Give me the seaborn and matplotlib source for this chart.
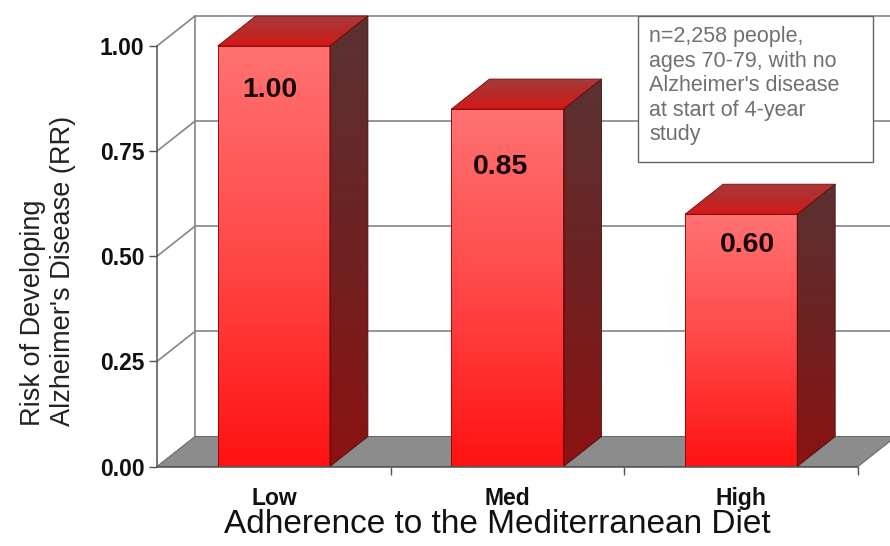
import numpy as np
import pandas as pd
import matplotlib
matplotlib.use("Agg")
import matplotlib.pyplot as plt
import seaborn as sns
from matplotlib.patches import Polygon, Rectangle
from matplotlib.colors import LinearSegmentedColormap

# ---------------- data ----------------
categories = ["Low", "Med", "High"]
risk_values = [1.00, 0.85, 0.60]
value_labels = ["1.00", "0.85", "0.60"]
y_ticks = [0.00, 0.25, 0.50, 0.75, 1.00]
y_tick_labels = ["0.00", "0.25", "0.50", "0.75", "1.00"]
x_title = "Adherence to the Mediterranean Diet"
y_title = "Risk of Developing\nAlzheimer's Disease (RR)"
note_text = "n=2,258 people,\nages 70-79, with no\nAlzheimer's disease\nat start of 4-year\nstudy"

# ---------------- style ----------------
label_offsets_px = [(-4, 44), (-7, 58), (6, 31)]   # value label offset from bar top centre
sns.set_theme(style="white")
plt.rcParams['font.family'] = ['Liberation Sans', 'DejaVu Sans']

W, H = 890, 546
fig = plt.figure(figsize=(W / 100, H / 100), dpi=100)
fig.patch.set_facecolor("white")

ax_l, ax_r, ax_b, ax_t = 157, 890, 466.5, 15
ax = fig.add_axes([ax_l / W, (H - ax_b) / H, (ax_r - ax_l) / W, (ax_b - ax_t) / H])
px_per_x = (858 - 157) / 3.0
px_per_y = 420.5
XMIN, XMAX = -0.5, -0.5 + (ax_r - ax_l) / px_per_x
YMAX = (ax_b - ax_t) / px_per_y
DX = 38 / px_per_x
DY = 30 / px_per_y

df = pd.DataFrame({"Adherence": categories, "RR": risk_values})
sns.barplot(data=df, x="Adherence", y="RR", order=categories, width=0.48,
            color="#ff3030", saturation=1, ax=ax, zorder=5)
bars = list(ax.patches)

grid_c = "#858585"
# back wall gridlines + left wall diagonals
for t in y_ticks[1:]:
    ax.plot([XMIN + DX, XMAX + 1], [t + DY, t + DY], color=grid_c, lw=1.2, zorder=1)
    ax.plot([XMIN, XMIN + DX], [t, t + DY], color=grid_c, lw=1.2, zorder=1, clip_on=False)
ax.plot([XMIN + DX, XMIN + DX], [DY, y_ticks[-1] + DY], color=grid_c, lw=1.2, zorder=1)

# floor
floor = Polygon([(XMIN, 0), (2.5, 0), (2.5 + DX, DY), (XMIN + DX, DY)],
                closed=True, facecolor="#8c8c8c", edgecolor="#6a6a6a", lw=0.8, zorder=2)
ax.add_patch(floor)

front_cmap = LinearSegmentedColormap.from_list("front", ["#ff1212", "#ff4848", "#ff7272"])
side_cmap = LinearSegmentedColormap.from_list("side", ["#8c1212", "#6e2222", "#5a3232"])
top_cmap = LinearSegmentedColormap.from_list("top", ["#d81818", "#b82a2a", "#a83a3a"])
grad = np.linspace(0, 1, 256).reshape(-1, 1)

for p, lab, (offx, offy) in zip(bars, value_labels, label_offsets_px):
    x0, w, h = p.get_x(), p.get_width(), p.get_height()
    x1 = x0 + w
    # front face gradient
    p.set_facecolor("none")
    p.set_edgecolor("#8a0000")
    p.set_linewidth(0.6)
    p.set_zorder(7)
    ax.imshow(grad, extent=[x0, x1, 0, h], origin="lower", aspect="auto",
              cmap=front_cmap, zorder=6, interpolation="bilinear")
    # side face
    side = Polygon([(x1, 0), (x1 + DX, DY), (x1 + DX, h + DY), (x1, h)], closed=True,
                   facecolor="none", edgecolor="#4a1010", lw=0.6, zorder=7)
    ax.add_patch(side)
    im = ax.imshow(grad, extent=[x1, x1 + DX, 0, h + DY], origin="lower", aspect="auto",
                   cmap=side_cmap, zorder=6, interpolation="bilinear")
    im.set_clip_path(side)
    # top face
    top = Polygon([(x0, h), (x1, h), (x1 + DX, h + DY), (x0 + DX, h + DY)], closed=True,
                  facecolor="none", edgecolor="#7a0a0a", lw=0.6, zorder=7)
    ax.add_patch(top)
    im2 = ax.imshow(grad, extent=[x0, x1 + DX, h, h + DY], origin="lower", aspect="auto",
                    cmap=top_cmap, zorder=6, interpolation="bilinear")
    im2.set_clip_path(top)
    # value label
    ax.annotate(lab, (x0 + w / 2, h), xytext=(offx * 0.72, -offy * 0.72),
                textcoords="offset points", ha="center", va="center", fontsize=20.5,
                fontweight="bold", color="#1a0505", zorder=9)

ax.set_xlim(XMIN, XMAX)
ax.set_ylim(0, YMAX)

# spines
for s in ["top", "right"]:
    ax.spines[s].set_visible(False)
ax.spines["left"].set_bounds(0, 1)
ax.spines["bottom"].set_bounds(-0.5, 2.5)
for s in ["left", "bottom"]:
    ax.spines[s].set_color("#505050")
    ax.spines[s].set_linewidth(1.1)
    ax.spines[s].set_zorder(8)

ax.set_yticks(y_ticks, y_tick_labels)
ax.set_xticks(range(len(categories)), categories)
ax.set_xticks([0.5, 1.5, 2.5], minor=True)
ax.tick_params(axis="y", left=True, direction="out", length=6, width=1, color="#505050",
               pad=3, labelsize=16.5)
ax.tick_params(axis="x", which="major", bottom=True, length=0, pad=15, labelsize=16.5)
ax.tick_params(axis="x", which="minor", bottom=True, direction="out", length=6, width=1,
               color="#505050")
for t in ax.get_yticklabels() + ax.get_xticklabels():
    t.set_fontweight("bold")
    t.set_color("#111111")

ax.set_xlabel(x_title, fontsize=24, color="#111111")
ax.xaxis.set_label_coords((497 - ax_l) / (ax_r - ax_l), (ax_b - 509) / (ax_b - ax_t))
ax.set_ylabel(y_title, fontsize=19.5, color="#222222", multialignment="left")
ax.yaxis.set_label_coords((76 - ax_l) / (ax_r - ax_l), (ax_b - 270.5) / (ax_b - ax_t))

# note box
box = Rectangle((638 / W, 1 - 162 / H), 235 / W, 146 / H, transform=fig.transFigure,
                facecolor="white", edgecolor="#666666", lw=1.0, zorder=5)
fig.add_artist(box)
fig.text(649 / W, 1 - 26 / H, note_text, ha="left", va="top", fontsize=15.5,
         color="#707070", linespacing=1.22, zorder=6)

fig.savefig("out.png", dpi=100)
